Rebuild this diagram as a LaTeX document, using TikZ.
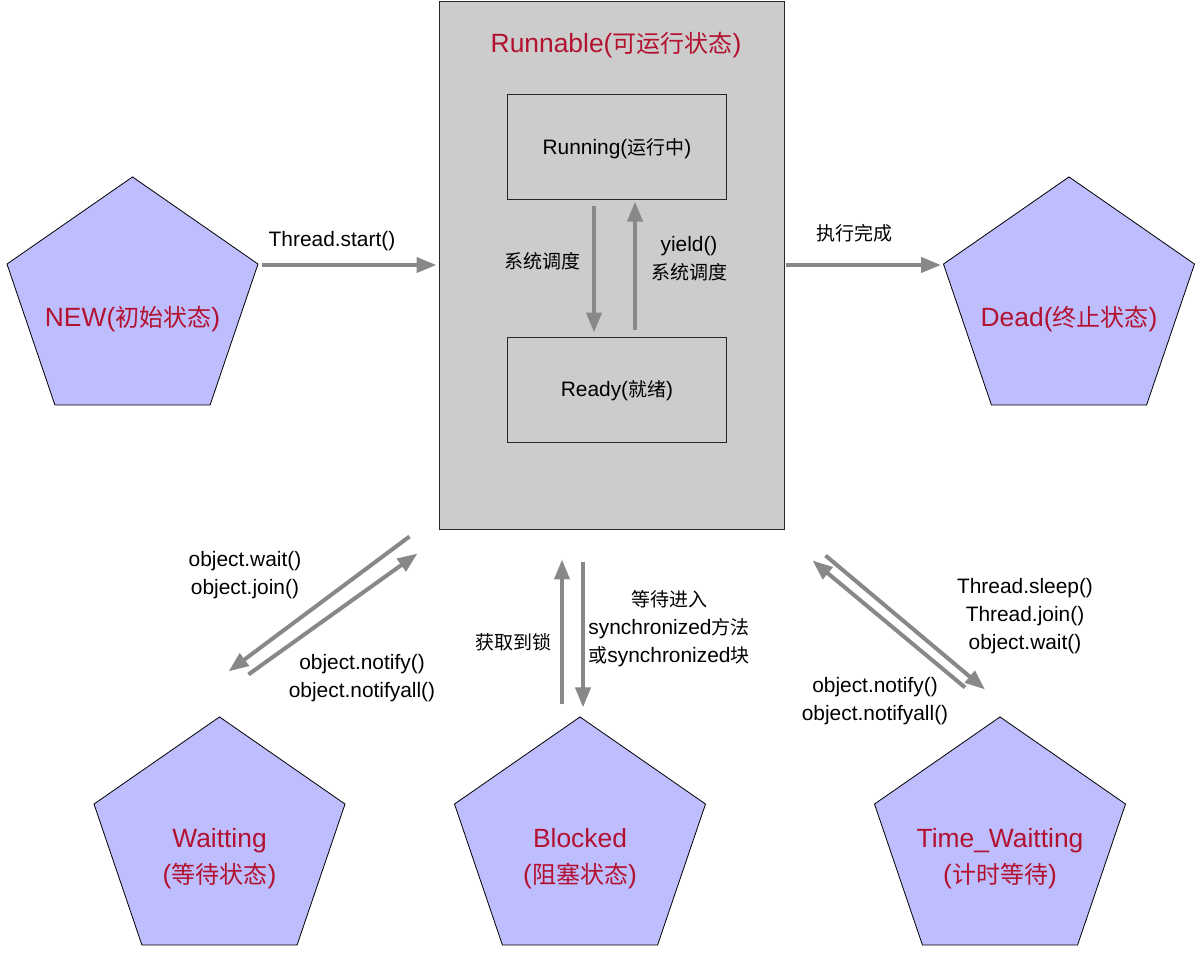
\documentclass[tikz,border=0pt]{standalone}
\usepackage{fontspec}
\setmainfont[Scale=1.1]{Liberation Sans}
\newfontfamily\cjk{Noto Sans CJK SC}
\usetikzlibrary{shapes.geometric,arrows.meta,calc}
\definecolor{redtxt}{RGB}{178,18,48}
\definecolor{pentafill}{RGB}{190,190,255}
\definecolor{boxgray}{RGB}{204,204,204}
\definecolor{arrgray}{RGB}{136,136,136}
\begin{document}
\begin{tikzpicture}[x=1pt,y=-1pt,
  penta/.style={regular polygon, regular polygon sides=5, minimum size=256pt, inner sep=0pt, draw=black, line width=0.8pt, fill=pentafill, xscale=1.031, yscale=0.985, transform shape},
  state/.style={text=redtxt, font=\fontsize{24}{36}\selectfont, align=center, inner sep=0pt},
  lbl/.style={font=\fontsize{19}{28}\selectfont, align=center, inner sep=0pt},
  rbox/.style={draw=black!85, line width=1pt, fill=boxgray},
  arr/.style={draw=arrgray, line width=4pt, -{Triangle[length=20pt,width=15pt]}}
]
\useasboundingbox[fill=white] (0,0) rectangle (1202,970);

% Runnable container
\node[rbox, minimum width=345pt, minimum height=528pt] (run) at (611.5,265) {};
\node[state] (runt) at (616,45) {Runnable({\cjk 可运行状态})};
\node[rbox, minimum width=219pt, minimum height=105pt] (running) at (616.5,146.5) {};
\node[lbl] (runningt) at (617,149) {Running({\cjk 运行中})};
\node[rbox, minimum width=219pt, minimum height=105pt] (ready) at (616.5,389.5) {};
\node[lbl] (readyt) at (617,391) {Ready({\cjk 就绪})};

% pentagons
\begin{scope}[shift={(132.5,303)}]\node[penta] (new) at (0,0) {};\end{scope}
\node[state] (newt) at (132.5,319) {NEW({\cjk 初始状态})};
\begin{scope}[shift={(1069,303)}]\node[penta] (dead) at (0,0) {};\end{scope}
\node[state] (deadt) at (1069,319) {Dead({\cjk 终止状态})};
\begin{scope}[shift={(219.5,843)}]\node[penta] (wait) at (0,0) {};\end{scope}
\node[state] (waitt) at (219.5,859) {Waitting\\({\cjk 等待状态})};
\begin{scope}[shift={(580,843)}]\node[penta] (block) at (0,0) {};\end{scope}
\node[state] (blockt) at (580,859) {Blocked\\({\cjk 阻塞状态})};
\begin{scope}[shift={(1000,843)}]\node[penta] (timed) at (0,0) {};\end{scope}
\node[state] (timedt) at (1000,859) {Time\_Waitting\\({\cjk 计时等待})};

% horizontal arrows
\draw[arr] ($(new.corner 5 |- run.west)+(4,0)$) -- ($(run.west)+(-2,0)$);
\node[lbl] (lstart) at (332,241) {Thread.start()};
\draw[arr] ($(run.east)+(1,0)$) -- ($(dead.corner 2 |- run.west)+(-2,0)$);
\node[lbl] (ldone) at (854,233) {\cjk 执行完成};

% inner arrows
\draw[arr] ($(running.south)+(-22.5,6)$) -- ($(ready.north)+(-22.5,-4)$);
\draw[arr] ($(ready.north)+(18.5,-7)$) -- ($(running.south)+(18.5,2)$);
\node[lbl] (lsched) at (542,261) {\cjk 系统调度};
\node[lbl] (lyield) at (689,259) {yield()\\{\cjk 系统调度}};

% left pair (Waitting)
\draw[arr] ($(run.south west)+(-29,7)$) -- ($(wait.corner 1)+(9,-45)$);
\draw[arr] ($(wait.corner 1)+(29,-42)$) -- ($(run.south west)+(-21,24)$);
\node[lbl] (lwait) at (245,575) {object.wait()\\object.join()};
\node[lbl] (lnotl) at (362,678) {object.notify()\\object.notifyall()};

% middle pair (Blocked)
\draw[arr] ($(block.corner 1)+(-18,-12)$) -- ($(block.corner 1)+(-18,-157)$);
\draw[arr] ($(block.corner 1)+(3,-154)$) -- ($(block.corner 1)+(3,-9)$);
\node[lbl] (llock) at (513,642) {\cjk 获取到锁};
\node[lbl] (lsync) at (669,629) {{\cjk 等待进入}\\synchronized{\cjk 方法}\\{\cjk 或}synchronized{\cjk 块}};

% right pair (Time_Waitting)
\draw[arr] ($(run.south east)+(41,26)$) -- ($(timed.corner 1)+(-15,-27)$);
\draw[arr] ($(timed.corner 1)+(-35,-29)$) -- ($(run.south east)+(28,31)$);
\node[lbl] (lsleep) at (1025,616) {Thread.sleep()\\Thread.join()\\object.wait()};
\node[lbl] (lnotr) at (875,701) {object.notify()\\object.notifyall()};
\end{tikzpicture}
\end{document}
